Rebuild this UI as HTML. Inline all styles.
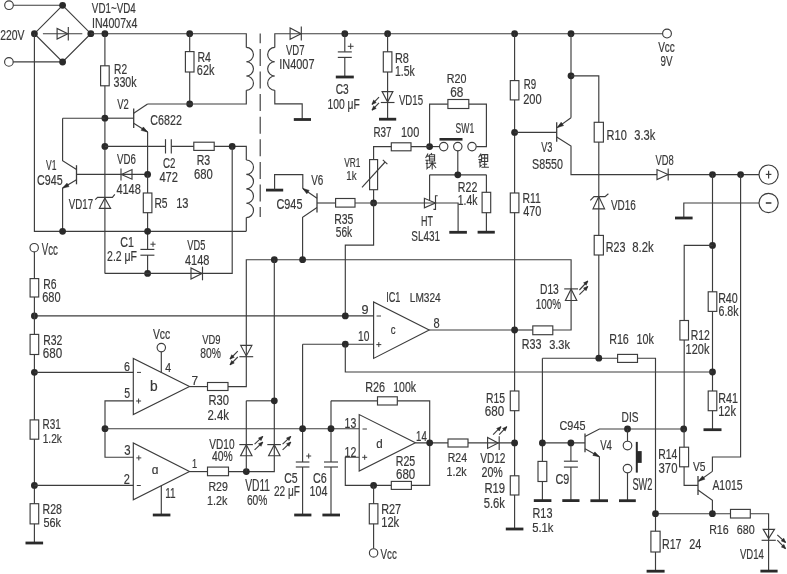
<!DOCTYPE html>
<html><head><meta charset="utf-8"><title>circuit</title>
<style>
html,body{margin:0;padding:0;background:#fff;}
body{width:787px;height:574px;overflow:hidden;}
svg{display:block;will-change:transform;}
text{font-family:"Liberation Sans",sans-serif;fill:#383838;stroke:#383838;stroke-width:0.2px;}
</style></head><body>
<svg width="787" height="574" viewBox="0 0 787 574">
<rect width="787" height="574" fill="#fff"/>
<g fill="none" stroke="#3c3c3c" stroke-width="1.15" stroke-linecap="butt" stroke-linejoin="miter">
<circle cx="9" cy="5.2" r="4.3" fill="#fff"/>
<circle cx="8.9" cy="61.9" r="4.3" fill="#fff"/>
<path d="M13.3 5.2 L62.6 5.2"/>
<path d="M13.2 61.9 L62.6 61.9"/>
<path d="M62.6 5.3 L90.8 33.7 L62.6 62 L34.4 33.7 L62.6 5.3"/>
<path d="M42.9 33.7 L82.3 33.7"/>
<polygon points="57.1,28.4 57.1,39 67.8,33.7" fill="none"/>
<path d="M68.3 26.9 L68.3 40.5"/>
<circle cx="62.6" cy="5.3" r="3.4" fill="#2a2a2a" stroke="none"/>
<circle cx="90.8" cy="33.7" r="3.4" fill="#2a2a2a" stroke="none"/>
<circle cx="62.6" cy="62" r="3.4" fill="#2a2a2a" stroke="none"/>
<circle cx="34.4" cy="33.7" r="3.4" fill="#2a2a2a" stroke="none"/>
<text x="0.18" y="40.4" font-size="14" textLength="24.28" lengthAdjust="spacingAndGlyphs">220V</text>
<text x="91.85" y="12.7" font-size="14.2" textLength="43.84" lengthAdjust="spacingAndGlyphs">VD1~VD4</text>
<text x="91.95" y="27.9" font-size="14.43" textLength="45.38" lengthAdjust="spacingAndGlyphs">IN4007x4</text>
<path d="M34.4 33.7 L34.4 231.3 L246.3 231.3"/>
<path d="M90.8 33.7 L246.3 33.7 L246.3 47.4"/>
<circle cx="104.9" cy="33.7" r="3.4" fill="#2a2a2a" stroke="none"/>
<circle cx="189.7" cy="33.7" r="3.4" fill="#2a2a2a" stroke="none"/>
<path d="M104.9 33.7 L104.9 273.4"/>
<rect x="100.6" y="65.8" width="8.6" height="20" fill="#fff"/>
<text x="114.08" y="74" font-size="14.29" textLength="13.06" lengthAdjust="spacingAndGlyphs">R2</text>
<text x="113.47" y="87.4" font-size="14.62" textLength="23.11" lengthAdjust="spacingAndGlyphs">330k</text>
<path d="M189.7 33.7 L189.7 104"/>
<rect x="185.4" y="51.6" width="8.6" height="20.4" fill="#fff"/>
<text x="197.46" y="62.2" font-size="14.49" textLength="13.5" lengthAdjust="spacingAndGlyphs">R4</text>
<text x="196.86" y="75.4" font-size="14.34" textLength="17.57" lengthAdjust="spacingAndGlyphs">62k</text>
<circle cx="189.7" cy="104" r="3.4" fill="#2a2a2a" stroke="none"/>
<path d="M147.6 104 L246.3 104 L246.3 90.3"/>
<path d="M104.9 118.2 L133.7 118.2"/>
<path d="M133.7 108.4 L133.7 127.9" stroke-width="1.3"/>
<path d="M133.7 113.2 L147.6 104"/>
<path d="M133.7 123.3 L147.6 132"/>
<polygon points="147.6,132 141.2,130.35 143.32,126.96" fill="#2a2a2a" stroke="#2a2a2a" stroke-width="0.6"/>
<path d="M147.6 132 L147.6 174.6"/>
<circle cx="104.9" cy="118.2" r="3.4" fill="#2a2a2a" stroke="none"/>
<text x="117.15" y="109.2" font-size="13.71" textLength="11.55" lengthAdjust="spacingAndGlyphs">V2</text>
<text x="150.37" y="124.7" font-size="15" textLength="31.49" lengthAdjust="spacingAndGlyphs">C6822</text>
<path d="M62.6 118.2 L104.9 118.2"/>
<path d="M62.6 118.2 L62.6 160.7 L76.5 169.6"/>
<path d="M76.5 165.2 L76.5 184.3" stroke-width="1.3"/>
<path d="M76.5 179.8 L62.6 188.1"/>
<polygon points="62.6,188.1 66.98,183.15 69.03,186.59" fill="#2a2a2a" stroke="#2a2a2a" stroke-width="0.6"/>
<path d="M62.6 188.1 L62.6 231.3"/>
<circle cx="62.6" cy="231.3" r="3.4" fill="#2a2a2a" stroke="none"/>
<text x="45.96" y="170.2" font-size="14.2" textLength="10.45" lengthAdjust="spacingAndGlyphs">V1</text>
<text x="37.07" y="184.6" font-size="15.14" textLength="25.57" lengthAdjust="spacingAndGlyphs">C945</text>
<path d="M76.5 174.4 L147.6 174.4"/>
<polygon points="121.5,174.4 132,169.6 132,179.2" fill="none"/>
<path d="M121 168.4 L121 180.6"/>
<circle cx="147.6" cy="174.4" r="3.4" fill="#2a2a2a" stroke="none"/>
<text x="116.95" y="164" font-size="14.57" textLength="18.84" lengthAdjust="spacingAndGlyphs">VD6</text>
<text x="116.38" y="194.4" font-size="14.57" textLength="24.46" lengthAdjust="spacingAndGlyphs">4148</text>
<circle cx="104.9" cy="146.4" r="3.4" fill="#2a2a2a" stroke="none"/>
<path d="M104.9 146.4 L165.5 146.4"/>
<path d="M171.3 146.4 L246.3 146.4 L246.3 160"/>
<path d="M165.5 139.2 L165.5 153.5"/>
<path d="M171.3 139.2 L171.3 153.5"/>
<rect x="193.8" y="142.2" width="20.4" height="8.2" fill="#fff"/>
<circle cx="232.2" cy="146.4" r="3.4" fill="#2a2a2a" stroke="none"/>
<text x="162.91" y="168" font-size="14.86" textLength="12.4" lengthAdjust="spacingAndGlyphs">C2</text>
<text x="159.38" y="181.6" font-size="14.57" textLength="18.62" lengthAdjust="spacingAndGlyphs">472</text>
<text x="196.75" y="165" font-size="14.57" textLength="13.5" lengthAdjust="spacingAndGlyphs">R3</text>
<text x="194.04" y="179" font-size="14.57" textLength="18.8" lengthAdjust="spacingAndGlyphs">680</text>
<polygon points="104.9,198.1 99.4,208.3 110.6,208.3" fill="none"/>
<path d="M95.2 199.7 L97.6 197.3 L112.4 197.3 L114.8 194.4"/>
<text x="68.75" y="208.8" font-size="14.49" textLength="24.35" lengthAdjust="spacingAndGlyphs">VD17</text>
<path d="M147.6 174.4 L147.6 273.4"/>
<rect x="143.3" y="193" width="8.6" height="19.7" fill="#fff"/>
<text x="154.38" y="207.5" font-size="15.51" textLength="13.17" lengthAdjust="spacingAndGlyphs">R5</text>
<text x="176.17" y="207.5" font-size="15.29" textLength="12.3" lengthAdjust="spacingAndGlyphs">13</text>
<circle cx="147.6" cy="231.3" r="3.4" fill="#2a2a2a" stroke="none"/>
<rect x="140" y="249.5" width="15.2" height="5.6" fill="#fff" stroke="none"/>
<path d="M140.4 249.4 L154.4 249.4"/>
<path d="M140.4 255.2 L154.4 255.2"/>
<path d="M150.4 244.2 L155.6 244.2" stroke-width="1"/>
<path d="M153 241.6 L153 246.8" stroke-width="1"/>
<text x="120.27" y="247" font-size="14.57" textLength="13.65" lengthAdjust="spacingAndGlyphs">C1</text>
<text x="107.08" y="261.2" font-size="14" textLength="29.94" lengthAdjust="spacingAndGlyphs">2.2 μF</text>
<circle cx="147.6" cy="273.4" r="3.4" fill="#2a2a2a" stroke="none"/>
<path d="M104.9 273.4 L232.2 273.4 L232.2 146.4"/>
<polygon points="191,267.9 191,279.1 202,273.4" fill="none"/>
<path d="M202.5 266.6 L202.5 280.3"/>
<text x="187.35" y="249.8" font-size="13.91" textLength="18.02" lengthAdjust="spacingAndGlyphs">VD5</text>
<text x="184.98" y="264.9" font-size="14.71" textLength="24.46" lengthAdjust="spacingAndGlyphs">4148</text>
<path d="M246.3 47.4 A7.15 7.15 0 0 1 246.3 61.7 A7.15 7.15 0 0 1 246.3 76 A7.15 7.15 0 0 1 246.3 90.3" fill="none"/>
<path d="M274.8 47.4 A7.15 7.15 0 0 0 274.8 61.7 A7.15 7.15 0 0 0 274.8 76 A7.15 7.15 0 0 0 274.8 90.3" fill="none"/>
<path d="M246.3 160 A7.2 7.2 0 0 1 246.3 174.4 A7.2 7.2 0 0 1 246.3 188.8 A7.2 7.2 0 0 1 246.3 203.2 A7.2 7.2 0 0 1 246.3 217.6" fill="none"/>
<path d="M246.3 217.6 L246.3 231.3"/>
<path d="M260.2 33.6 L260.2 217" stroke-dasharray="17 5.6" stroke-dashoffset="7.3"/>
<path d="M274.8 47.4 L274.8 33.7 L290.4 33.7"/>
<path d="M274.8 90.3 L274.8 103.8 L302.2 103.8 L302.2 119.5"/>
<rect x="293.8" y="118.1" width="17.2" height="2.8" fill="#2a2a2a" stroke="none"/>
<polygon points="290.1,28 290.1,39.3 301.1,33.7" fill="none"/>
<path d="M301.3 26.6 L301.3 40.6"/>
<path d="M290.4 33.7 L662.6 33.7"/>
<circle cx="667" cy="33.6" r="4.4" fill="#fff"/>
<text x="285.95" y="55.2" font-size="14.49" textLength="18.53" lengthAdjust="spacingAndGlyphs">VD7</text>
<text x="279.21" y="69.4" font-size="14.57" textLength="35.33" lengthAdjust="spacingAndGlyphs">IN4007</text>
<text x="658.15" y="52.2" font-size="14.49" textLength="16.72" lengthAdjust="spacingAndGlyphs">Vcc</text>
<text x="660.46" y="65.8" font-size="13.71" textLength="12.02" lengthAdjust="spacingAndGlyphs">9V</text>
<circle cx="344.8" cy="33.7" r="3.4" fill="#2a2a2a" stroke="none"/>
<path d="M344.8 33.7 L344.8 51.8"/>
<path d="M344.8 57.5 L344.8 77"/>
<path d="M337.8 51.9 L351.8 51.9"/>
<path d="M337.8 57.4 L351.8 57.4"/>
<path d="M347.8 46.3 L353.6 46.3" stroke-width="1"/>
<path d="M350.7 43.4 L350.7 49.2" stroke-width="1"/>
<rect x="335.8" y="75.6" width="18" height="2.8" fill="#2a2a2a" stroke="none"/>
<text x="335.69" y="94" font-size="14.57" textLength="12.95" lengthAdjust="spacingAndGlyphs">C3</text>
<text x="327.53" y="108.8" font-size="14.29" textLength="32.27" lengthAdjust="spacingAndGlyphs">100 μF</text>
<circle cx="387.6" cy="33.7" r="3.4" fill="#2a2a2a" stroke="none"/>
<path d="M387.6 33.7 L387.6 119.2"/>
<rect x="383.3" y="51.8" width="8.6" height="20.2" fill="#fff"/>
<polygon points="382.1,91.6 392.9,91.6 387.6,102" fill="none"/>
<path d="M380.8 102.5 L394.5 102.5"/>
<path d="M379 97.1 L372 104.4"/>
<polygon points="372,104.4 373.61,100.12 376.21,102.61" fill="#2a2a2a" stroke="#2a2a2a" stroke-width="0.6"/>
<path d="M379 102.9 L372 110.2"/>
<polygon points="372,110.2 373.61,105.92 376.21,108.41" fill="#2a2a2a" stroke="#2a2a2a" stroke-width="0.6"/>
<rect x="379" y="117.8" width="17.2" height="2.8" fill="#2a2a2a" stroke="none"/>
<text x="394.93" y="62.6" font-size="14.57" textLength="13.95" lengthAdjust="spacingAndGlyphs">R8</text>
<text x="395.01" y="75.6" font-size="14.07" textLength="19.79" lengthAdjust="spacingAndGlyphs">1.5k</text>
<text x="398.95" y="104.6" font-size="14.78" textLength="24.05" lengthAdjust="spacingAndGlyphs">VD15</text>
<path d="M429.6 146.6 L429.6 104.1 L447.9 104.1"/>
<path d="M468.8 104.1 L486.4 104.1 L486.4 146.6 L476.2 146.6"/>
<rect x="447.9" y="99.5" width="20.9" height="9" fill="#fff"/>
<text x="446.74" y="83" font-size="13" textLength="19.63" lengthAdjust="spacingAndGlyphs">R20</text>
<text x="450.31" y="96.9" font-size="13.86" textLength="13.09" lengthAdjust="spacingAndGlyphs">68</text>
<circle cx="443.7" cy="146.6" r="4.2" fill="#fff"/>
<circle cx="457.8" cy="146.6" r="4.2" fill="#fff"/>
<circle cx="472" cy="146.6" r="4.2" fill="#fff"/>
<path d="M429.6 146.6 L439.5 146.6"/>
<rect x="439.5" y="138.0" width="23.0" height="2.6" fill="#2a2a2a" stroke="none"/>
<text x="455.61" y="133.4" font-size="13.71" textLength="18.59" lengthAdjust="spacingAndGlyphs">SW1</text>
<path d="M457.8 150.8 L457.8 174.8"/>
<circle cx="429.6" cy="146.6" r="3.4" fill="#2a2a2a" stroke="none"/>
<path d="M373.6 159.6 L373.6 146.6 L429.6 146.6"/>
<rect x="391.3" y="142.8" width="19.7" height="8" fill="#fff"/>
<text x="373.41" y="137.2" font-size="14.29" textLength="18.08" lengthAdjust="spacingAndGlyphs">R37</text>
<text x="400.98" y="137.2" font-size="14.29" textLength="18.24" lengthAdjust="spacingAndGlyphs">100</text>
<path d="M373.6 189.7 L373.6 202.9"/>
<rect x="369.6" y="159.6" width="8" height="30.1" fill="#fff"/>
<path d="M362 187.3 L385.1 162"/>
<path d="M382.8 159.9 L387.4 164.1"/>
<text x="344.26" y="167.3" font-size="13.04" textLength="16.22" lengthAdjust="spacingAndGlyphs">VR1</text>
<text x="346.27" y="180.4" font-size="12.14" textLength="10.24" lengthAdjust="spacingAndGlyphs">1k</text>
<circle cx="373.6" cy="202.9" r="3.4" fill="#2a2a2a" stroke="none"/>
<rect x="266" y="188.7" width="17.2" height="2.8" fill="#2a2a2a" stroke="none"/>
<path d="M274.6 190.1 L274.6 174.6 L302.8 174.6 L302.8 188.5"/>
<path d="M317 198.3 L302.8 188.5"/>
<polygon points="302.8,188.5 309.12,190.43 306.85,193.72" fill="#2a2a2a" stroke="#2a2a2a" stroke-width="0.6"/>
<path d="M317 193.3 L317 212.4" stroke-width="1.3"/>
<path d="M317 203 L335.6 203"/>
<rect x="335.6" y="198.5" width="19.4" height="8.6" fill="#fff"/>
<path d="M355 203 L435.5 203"/>
<path d="M317 207.6 L302.6 217.2 L302.6 259.7"/>
<text x="311.15" y="184.8" font-size="14" textLength="12.08" lengthAdjust="spacingAndGlyphs">V6</text>
<text x="276.46" y="208.6" font-size="14.86" textLength="25.99" lengthAdjust="spacingAndGlyphs">C945</text>
<text x="334.16" y="223.6" font-size="14.57" textLength="19.25" lengthAdjust="spacingAndGlyphs">R35</text>
<text x="335.79" y="236.6" font-size="14.07" textLength="16.43" lengthAdjust="spacingAndGlyphs">56k</text>
<path d="M429.6 174.8 L486.4 174.8"/>
<path d="M429.6 174.8 L429.6 200.6"/>
<polygon points="424.4,198.3 424.4,207.9 435.4,203" fill="none"/>
<path d="M437.7 195.7 L435.5 195.7 L435.5 209.4 L433.4 209.4"/>
<path d="M435.5 203 L458.1 203 L458.1 232.3"/>
<rect x="449.3" y="230.9" width="17.6" height="2.8" fill="#2a2a2a" stroke="none"/>
<circle cx="457.8" cy="174.8" r="3.4" fill="#2a2a2a" stroke="none"/>
<text x="420.98" y="226" font-size="14.78" textLength="11.92" lengthAdjust="spacingAndGlyphs">HT</text>
<text x="411.35" y="240.6" font-size="14.57" textLength="28.71" lengthAdjust="spacingAndGlyphs">SL431</text>
<path d="M486.4 174.8 L486.4 232.2"/>
<rect x="482.1" y="192.3" width="8.6" height="20.4" fill="#fff"/>
<rect x="477.6" y="230.8" width="17.2" height="2.8" fill="#2a2a2a" stroke="none"/>
<text x="457.75" y="192.2" font-size="14.57" textLength="19.58" lengthAdjust="spacingAndGlyphs">R22</text>
<text x="457.81" y="205.4" font-size="14.07" textLength="19.79" lengthAdjust="spacingAndGlyphs">1.4k</text>
<circle cx="514.6" cy="33.7" r="3.4" fill="#2a2a2a" stroke="none"/>
<path d="M514.6 33.7 L514.6 529"/>
<rect x="510.3" y="80.6" width="8.6" height="19.3" fill="#fff"/>
<rect x="510.3" y="193" width="8.6" height="19.7" fill="#fff"/>
<rect x="510.3" y="391" width="8.6" height="19.7" fill="#fff"/>
<rect x="510.3" y="475.8" width="8.6" height="19.2" fill="#fff"/>
<rect x="505.8" y="527.6" width="17.6" height="2.8" fill="#2a2a2a" stroke="none"/>
<circle cx="514.6" cy="132.4" r="3.4" fill="#2a2a2a" stroke="none"/>
<text x="523.72" y="88.8" font-size="14.86" textLength="12.45" lengthAdjust="spacingAndGlyphs">R9</text>
<text x="523.15" y="104" font-size="14.71" textLength="18.48" lengthAdjust="spacingAndGlyphs">200</text>
<text x="522.57" y="202.6" font-size="14.78" textLength="18.3" lengthAdjust="spacingAndGlyphs">R11</text>
<text x="523.18" y="216.2" font-size="14.57" textLength="18.24" lengthAdjust="spacingAndGlyphs">470</text>
<text x="485.97" y="402.8" font-size="14.78" textLength="19.04" lengthAdjust="spacingAndGlyphs">R15</text>
<text x="484.82" y="415.8" font-size="14.57" textLength="19.43" lengthAdjust="spacingAndGlyphs">680</text>
<text x="484.4" y="492.6" font-size="14.29" textLength="20.71" lengthAdjust="spacingAndGlyphs">R19</text>
<text x="483.75" y="507.6" font-size="14.07" textLength="21.25" lengthAdjust="spacingAndGlyphs">5.6k</text>
<circle cx="571" cy="33.7" r="3.4" fill="#2a2a2a" stroke="none"/>
<path d="M571 33.7 L571 117.8"/>
<path d="M571 117.8 L557.2 127.6"/>
<polygon points="557.2,127.6 561.18,122.32 563.49,125.58" fill="#2a2a2a" stroke="#2a2a2a" stroke-width="0.6"/>
<path d="M556.7 122.3 L556.7 141.8" stroke-width="1.3"/>
<path d="M514.6 132.4 L556.7 132.4"/>
<path d="M556.7 137 L571 146 L571 174.6 L759 174.6"/>
<text x="541.15" y="151.6" font-size="14.29" textLength="11.24" lengthAdjust="spacingAndGlyphs">V3</text>
<text x="532.12" y="169.2" font-size="14.57" textLength="30.87" lengthAdjust="spacingAndGlyphs">S8550</text>
<circle cx="571" cy="75.8" r="3.4" fill="#2a2a2a" stroke="none"/>
<path d="M571 75.8 L598.8 75.8 L598.8 358"/>
<rect x="594.2" y="122.3" width="9.2" height="19.8" fill="#fff"/>
<text x="606.62" y="139.6" font-size="14.71" textLength="20.16" lengthAdjust="spacingAndGlyphs">R10</text>
<text x="634.26" y="139.6" font-size="14.07" textLength="20.94" lengthAdjust="spacingAndGlyphs">3.3k</text>
<polygon points="598.8,196.5 593,208.8 604.6,208.8" fill="none"/>
<path d="M590.3 200.4 L594 196.6 L605 196.6 L608.4 193.8"/>
<text x="610.95" y="209.8" font-size="15.43" textLength="24.86" lengthAdjust="spacingAndGlyphs">VD16</text>
<rect x="594.2" y="235.4" width="9.2" height="19.6" fill="#fff"/>
<text x="605.74" y="251.6" font-size="15.43" textLength="19.68" lengthAdjust="spacingAndGlyphs">R23</text>
<text x="632.29" y="251.6" font-size="14.9" textLength="21.51" lengthAdjust="spacingAndGlyphs">8.2k</text>
<polygon points="657,169.6 657,179.6 668,174.6" fill="#fff"/>
<path d="M668.2 168.6 L668.2 180.6"/>
<circle cx="712.5" cy="174.6" r="3.4" fill="#2a2a2a" stroke="none"/>
<circle cx="740.6" cy="174.6" r="3.4" fill="#2a2a2a" stroke="none"/>
<text x="655.55" y="164.8" font-size="14.57" textLength="18.23" lengthAdjust="spacingAndGlyphs">VD8</text>
<circle cx="768.6" cy="174.6" r="9.6" fill="#fff"/>
<path d="M765.8 174.4 L771.4 174.4" stroke-width="1.2"/>
<path d="M768.6 170.8 L768.6 178.4" stroke-width="1.2"/>
<circle cx="768.6" cy="203.0" r="9.6" fill="#fff"/>
<path d="M765.8 203 L771.4 203" stroke-width="1.6"/>
<path d="M759 203 L683.8 203 L683.8 218"/>
<rect x="675" y="216.6" width="17.6" height="2.8" fill="#2a2a2a" stroke="none"/>
<path d="M712.5 174.6 L712.5 429.7"/>
<rect x="708.2" y="291.8" width="8.6" height="19.6" fill="#fff"/>
<rect x="708.2" y="391" width="8.6" height="19.7" fill="#fff"/>
<rect x="703.5" y="428.3" width="18" height="2.8" fill="#2a2a2a" stroke="none"/>
<circle cx="712.5" cy="245.4" r="3.4" fill="#2a2a2a" stroke="none"/>
<circle cx="712.5" cy="372" r="3.4" fill="#2a2a2a" stroke="none"/>
<text x="718.14" y="302.8" font-size="14.57" textLength="19.63" lengthAdjust="spacingAndGlyphs">R40</text>
<text x="718.47" y="316.4" font-size="14.07" textLength="20.13" lengthAdjust="spacingAndGlyphs">6.8k</text>
<text x="718.14" y="402.8" font-size="14.78" textLength="19.74" lengthAdjust="spacingAndGlyphs">R41</text>
<text x="718.17" y="415.8" font-size="14.07" textLength="17.86" lengthAdjust="spacingAndGlyphs">12k</text>
<path d="M712.5 245.4 L684.2 245.4 L684.2 428.7"/>
<rect x="679.9" y="320.5" width="8.6" height="19.5" fill="#fff"/>
<text x="690.76" y="340" font-size="14.57" textLength="19.15" lengthAdjust="spacingAndGlyphs">R12</text>
<text x="685.58" y="354.4" font-size="14.07" textLength="23.81" lengthAdjust="spacingAndGlyphs">120k</text>
<path d="M740.6 174.6 L740.6 457 L712.4 457 L712.4 471.4"/>
<path d="M246.3 356.7 L246.3 259.7 L571.1 259.7 L571.1 288.9"/>
<circle cx="274.3" cy="259.7" r="3.4" fill="#2a2a2a" stroke="none"/>
<circle cx="302.6" cy="259.7" r="3.4" fill="#2a2a2a" stroke="none"/>
<path d="M564.2 288.9 L578 288.9"/>
<polygon points="571.1,289 565.4,300.5 576.8,300.5" fill="none"/>
<path d="M571.1 288.9 L571.1 330 L552.8 330"/>
<path d="M579.4 294.7 L587.8 286.4"/>
<polygon points="587.8,286.4 586.08,290.63 583.55,288.07" fill="#2a2a2a" stroke="#2a2a2a" stroke-width="0.6"/>
<path d="M579.4 290 L587.8 281"/>
<polygon points="587.8,281 586.25,285.3 583.62,282.84" fill="#2a2a2a" stroke="#2a2a2a" stroke-width="0.6"/>
<text x="539.98" y="294.4" font-size="14.29" textLength="18.83" lengthAdjust="spacingAndGlyphs">D13</text>
<text x="535.66" y="309.2" font-size="14.86" textLength="25.26" lengthAdjust="spacingAndGlyphs">100%</text>
<rect x="532.8" y="325.9" width="20" height="8.8" fill="#fff"/>
<path d="M514.6 330 L532.8 330"/>
<text x="521.74" y="349.4" font-size="13.71" textLength="19.68" lengthAdjust="spacingAndGlyphs">R33</text>
<text x="549.16" y="349.4" font-size="13.24" textLength="20.84" lengthAdjust="spacingAndGlyphs">3.3k</text>
<path d="M373.6 202.9 L373.6 245.1 L345.3 245.1 L345.3 315.9"/>
<path d="M34.4 315.9 L373.6 315.9"/>
<circle cx="345.3" cy="315.9" r="3.4" fill="#2a2a2a" stroke="none"/>
<circle cx="34.4" cy="315.9" r="3.4" fill="#2a2a2a" stroke="none"/>
<polygon points="373.6,302 373.6,358.4 429.2,330" fill="none"/>
<path d="M429.2 330 L514.6 330"/>
<circle cx="514.6" cy="330" r="3.4" fill="#2a2a2a" stroke="none"/>
<path d="M302.6 344.2 L373.6 344.2"/>
<circle cx="345.3" cy="344.2" r="3.4" fill="#2a2a2a" stroke="none"/>
<path d="M345.3 344.2 L345.3 372 L712.5 372"/>
<text x="361.43" y="313.7" font-size="13.29" textLength="7.06" lengthAdjust="spacingAndGlyphs">9</text>
<text x="358.04" y="340.9" font-size="14.14" textLength="11.35" lengthAdjust="spacingAndGlyphs">10</text>
<path d="M376.6 316 L381 316" stroke-width="1"/>
<path d="M376.3 344.6 L381.3 344.6" stroke-width="1"/>
<path d="M378.8 342.1 L378.8 347.1" stroke-width="1"/>
<text x="390.81" y="333.8" font-size="12.96" textLength="4.83" lengthAdjust="spacingAndGlyphs">c</text>
<text x="433.5" y="328.4" font-size="13.71" textLength="6.15" lengthAdjust="spacingAndGlyphs">8</text>
<text x="386.18" y="302.2" font-size="14.57" textLength="14.25" lengthAdjust="spacingAndGlyphs">IC1</text>
<text x="409.79" y="302.3" font-size="12.86" textLength="30.94" lengthAdjust="spacingAndGlyphs">LM324</text>
<circle cx="34.2" cy="247.7" r="4.2" fill="#fff"/>
<text x="41.75" y="254.8" font-size="16.23" textLength="16.11" lengthAdjust="spacingAndGlyphs">Vcc</text>
<path d="M34.4 251.9 L34.4 543"/>
<rect x="30.1" y="278.6" width="8.6" height="18.4" fill="#fff"/>
<rect x="30.1" y="334.4" width="8.6" height="20.1" fill="#fff"/>
<rect x="30.1" y="419.9" width="8.6" height="19.3" fill="#fff"/>
<rect x="30.1" y="503.7" width="8.6" height="20.2" fill="#fff"/>
<rect x="25.5" y="541.6" width="17.6" height="2.8" fill="#2a2a2a" stroke="none"/>
<text x="43.17" y="288.5" font-size="15.14" textLength="13.28" lengthAdjust="spacingAndGlyphs">R6</text>
<text x="42.25" y="301.6" font-size="14.57" textLength="18.37" lengthAdjust="spacingAndGlyphs">680</text>
<text x="43.16" y="345.4" font-size="14.57" textLength="19.15" lengthAdjust="spacingAndGlyphs">R32</text>
<text x="42.82" y="358" font-size="14.57" textLength="19.43" lengthAdjust="spacingAndGlyphs">680</text>
<text x="42.6" y="429.4" font-size="14.57" textLength="18.24" lengthAdjust="spacingAndGlyphs">R31</text>
<text x="42.63" y="443.2" font-size="13.52" textLength="19.37" lengthAdjust="spacingAndGlyphs">1.2k</text>
<text x="42.56" y="513.6" font-size="14" textLength="19.36" lengthAdjust="spacingAndGlyphs">R28</text>
<text x="43.46" y="526.6" font-size="12.97" textLength="17.56" lengthAdjust="spacingAndGlyphs">56k</text>
<circle cx="34.4" cy="372.3" r="3.4" fill="#2a2a2a" stroke="none"/>
<circle cx="34.4" cy="485.4" r="3.4" fill="#2a2a2a" stroke="none"/>
<path d="M34.4 372.3 L133.3 372.3"/>
<path d="M34.4 485.4 L133.3 485.4"/>
<polygon points="133.3,358.4 133.3,414.6 189.5,386.6" fill="none"/>
<path d="M105 428.7 L105 400.8 L133.3 400.8"/>
<circle cx="161.3" cy="347.6" r="4.2" fill="#fff"/>
<path d="M161.3 351.8 L161.3 372.4"/>
<text x="152.95" y="338.8" font-size="14.78" textLength="17.33" lengthAdjust="spacingAndGlyphs">Vcc</text>
<text x="124.06" y="370.8" font-size="13.43" textLength="5.98" lengthAdjust="spacingAndGlyphs">6</text>
<text x="124.18" y="398.3" font-size="14.2" textLength="5.85" lengthAdjust="spacingAndGlyphs">5</text>
<text x="165.29" y="371.6" font-size="12.9" textLength="5.84" lengthAdjust="spacingAndGlyphs">4</text>
<text x="191.41" y="384.6" font-size="13.33" textLength="6.6" lengthAdjust="spacingAndGlyphs">7</text>
<text x="150.1" y="390.8" font-size="14.07" textLength="7.66" lengthAdjust="spacingAndGlyphs">b</text>
<path d="M137 372.4 L141 372.4" stroke-width="1"/>
<path d="M136.1 401 L141.1 401" stroke-width="1"/>
<path d="M138.6 398.5 L138.6 403.5" stroke-width="1"/>
<path d="M189.5 386.6 L207.5 386.6"/>
<rect x="207.5" y="382.5" width="20.5" height="8" fill="#fff"/>
<path d="M228 386.6 L246.3 386.6 L246.3 356.7"/>
<polygon points="240.7,345.4 251.9,345.4 246.3,355.9" fill="none"/>
<path d="M239.4 356.7 L253.2 356.7"/>
<path d="M237.8 351.2 L230 359"/>
<polygon points="230,359 231.7,354.76 234.24,357.3" fill="#2a2a2a" stroke="#2a2a2a" stroke-width="0.6"/>
<path d="M237.8 357 L230 364.8"/>
<polygon points="230,364.8 231.7,360.56 234.24,363.1" fill="#2a2a2a" stroke="#2a2a2a" stroke-width="0.6"/>
<text x="202.15" y="344.2" font-size="13" textLength="18.27" lengthAdjust="spacingAndGlyphs">VD9</text>
<text x="200.34" y="358.4" font-size="14.57" textLength="20.64" lengthAdjust="spacingAndGlyphs">80%</text>
<text x="208.51" y="405.4" font-size="14.57" textLength="20.48" lengthAdjust="spacingAndGlyphs">R30</text>
<text x="207.43" y="419.8" font-size="14.07" textLength="21.57" lengthAdjust="spacingAndGlyphs">2.4k</text>
<polygon points="133.3,443 133.3,499.8 189.5,471.5" fill="none"/>
<path d="M105 428.7 L105 457.2 L133.3 457.2"/>
<circle cx="105" cy="428.7" r="3.4" fill="#2a2a2a" stroke="none"/>
<path d="M105 428.7 L359.2 428.7"/>
<path d="M161.3 485.7 L161.3 515"/>
<rect x="152.8" y="513.6" width="17.6" height="2.8" fill="#2a2a2a" stroke="none"/>
<text x="124.15" y="455.2" font-size="13.71" textLength="6.32" lengthAdjust="spacingAndGlyphs">3</text>
<text x="123.65" y="483.6" font-size="13.71" textLength="6.11" lengthAdjust="spacingAndGlyphs">2</text>
<text x="192.11" y="468.4" font-size="13.04" textLength="5.11" lengthAdjust="spacingAndGlyphs">1</text>
<text x="165.25" y="498" font-size="13.91" textLength="10.44" lengthAdjust="spacingAndGlyphs">11</text>
<text x="151.82" y="473.6" font-size="12.59" textLength="6.67" lengthAdjust="spacingAndGlyphs">ɑ</text>
<path d="M136.3 457.9 L141.3 457.9" stroke-width="1"/>
<path d="M138.8 455.4 L138.8 460.4" stroke-width="1"/>
<path d="M136.8 485.5 L140.8 485.5" stroke-width="1"/>
<path d="M189.5 471.6 L207.5 471.6"/>
<rect x="207.5" y="467.1" width="21" height="8.6" fill="#fff"/>
<path d="M228.5 471.6 L274.3 471.6 L274.3 259.7"/>
<circle cx="246.3" cy="471.6" r="3.4" fill="#2a2a2a" stroke="none"/>
<path d="M246.3 400.8 L246.3 471.6"/>
<path d="M246.3 400.8 L274.3 400.8"/>
<circle cx="274.3" cy="400.8" r="3.4" fill="#2a2a2a" stroke="none"/>
<path d="M239.3 444.6 L252.9 444.6"/>
<polygon points="246.3,444.7 240.6,455.7 252,455.7" fill="none"/>
<path d="M254.6 444.2 L262.8 436.4"/>
<polygon points="262.8,436.4 261,440.6 258.52,437.99" fill="#2a2a2a" stroke="#2a2a2a" stroke-width="0.6"/>
<path d="M254.6 449.9 L262.8 442.1"/>
<polygon points="262.8,442.1 261,446.3 258.52,443.69" fill="#2a2a2a" stroke="#2a2a2a" stroke-width="0.6"/>
<path d="M267.3 444.6 L280.9 444.6"/>
<polygon points="274.3,444.7 268.6,455.7 280,455.7" fill="none"/>
<path d="M282.6 444.2 L290.8 436.4"/>
<polygon points="290.8,436.4 289,440.6 286.52,437.99" fill="#2a2a2a" stroke="#2a2a2a" stroke-width="0.6"/>
<path d="M282.6 449.9 L290.8 442.1"/>
<polygon points="290.8,442.1 289,446.3 286.52,443.69" fill="#2a2a2a" stroke="#2a2a2a" stroke-width="0.6"/>
<text x="209.35" y="448.8" font-size="14.57" textLength="25.22" lengthAdjust="spacingAndGlyphs">VD10</text>
<text x="212.09" y="461.4" font-size="13.71" textLength="20.68" lengthAdjust="spacingAndGlyphs">40%</text>
<text x="208.45" y="490.8" font-size="13.14" textLength="19.42" lengthAdjust="spacingAndGlyphs">R29</text>
<text x="206.99" y="505" font-size="13.24" textLength="20.41" lengthAdjust="spacingAndGlyphs">1.2k</text>
<text x="245.15" y="491.2" font-size="15.65" textLength="24.94" lengthAdjust="spacingAndGlyphs">VD11</text>
<text x="246.89" y="505" font-size="14.57" textLength="20.49" lengthAdjust="spacingAndGlyphs">60%</text>
<path d="M302.6 344.2 L302.6 462"/>
<path d="M302.6 467 L302.6 515"/>
<path d="M295.8 462 L309.4 462"/>
<path d="M295.8 467 L309.4 467"/>
<path d="M306.2 456 L311.2 456" stroke-width="1"/>
<path d="M308.7 453.5 L308.7 458.5" stroke-width="1"/>
<rect x="294.2" y="513.6" width="17.2" height="2.8" fill="#2a2a2a" stroke="none"/>
<circle cx="302.6" cy="428.7" r="3.4" fill="#2a2a2a" stroke="none"/>
<text x="284.28" y="482.8" font-size="13.71" textLength="13.38" lengthAdjust="spacingAndGlyphs">C5</text>
<text x="273.9" y="496.2" font-size="14.29" textLength="25.93" lengthAdjust="spacingAndGlyphs">22 μF</text>
<path d="M331 400.8 L331 462"/>
<path d="M331 467 L331 515"/>
<path d="M324 462 L338 462"/>
<path d="M324 467 L338 467"/>
<rect x="322.4" y="513.6" width="17.6" height="2.8" fill="#2a2a2a" stroke="none"/>
<circle cx="331" cy="428.7" r="3.4" fill="#2a2a2a" stroke="none"/>
<text x="312.96" y="482.8" font-size="13.71" textLength="13.7" lengthAdjust="spacingAndGlyphs">C6</text>
<text x="309.5" y="495.8" font-size="13.71" textLength="17.86" lengthAdjust="spacingAndGlyphs">104</text>
<polygon points="359.2,414.6 359.2,471 415.4,442.8" fill="none"/>
<path d="M362.5 429 L366.9 429" stroke-width="1"/>
<path d="M362.2 457.3 L367.2 457.3" stroke-width="1"/>
<path d="M364.7 454.8 L364.7 459.8" stroke-width="1"/>
<text x="344.62" y="427.6" font-size="14.57" textLength="11.63" lengthAdjust="spacingAndGlyphs">13</text>
<text x="344.61" y="456.6" font-size="14.57" textLength="11.74" lengthAdjust="spacingAndGlyphs">12</text>
<text x="376.34" y="447.6" font-size="12.69" textLength="6.43" lengthAdjust="spacingAndGlyphs">d</text>
<text x="416.08" y="440.7" font-size="14.2" textLength="10.74" lengthAdjust="spacingAndGlyphs">14</text>
<path d="M331 400.8 L377.5 400.8"/>
<rect x="377.5" y="396.8" width="19.8" height="8.2" fill="#fff"/>
<path d="M397.3 400.8 L429.7 400.8 L429.7 485.4 L411.4 485.4"/>
<text x="365.13" y="392.4" font-size="14.57" textLength="19.9" lengthAdjust="spacingAndGlyphs">R26</text>
<text x="393.21" y="392.4" font-size="14.07" textLength="22.77" lengthAdjust="spacingAndGlyphs">100k</text>
<path d="M359.2 457.2 L345.3 457.2 L345.3 485.4 L391.3 485.4"/>
<rect x="391.3" y="481.4" width="20.1" height="8" fill="#fff"/>
<circle cx="373.6" cy="485.4" r="3.4" fill="#2a2a2a" stroke="none"/>
<text x="395.75" y="465.8" font-size="14.57" textLength="19.47" lengthAdjust="spacingAndGlyphs">R25</text>
<text x="396.02" y="479" font-size="14.86" textLength="19.22" lengthAdjust="spacingAndGlyphs">680</text>
<path d="M373.6 485.4 L373.6 548.7"/>
<rect x="369.3" y="503.7" width="8.6" height="20.2" fill="#fff"/>
<circle cx="373.6" cy="552.9" r="4.2" fill="#fff"/>
<text x="381.13" y="514" font-size="14.57" textLength="20.01" lengthAdjust="spacingAndGlyphs">R27</text>
<text x="381.16" y="527" font-size="14.07" textLength="18.07" lengthAdjust="spacingAndGlyphs">12k</text>
<text x="380.55" y="558.6" font-size="14.2" textLength="16.31" lengthAdjust="spacingAndGlyphs">Vcc</text>
<path d="M415.4 442.8 L514.6 442.8"/>
<circle cx="429.7" cy="442.8" r="3.4" fill="#2a2a2a" stroke="none"/>
<rect x="448" y="439" width="20" height="8" fill="#fff"/>
<polygon points="487.6,437.4 487.6,448.4 498.1,443" fill="none"/>
<path d="M499.2 436.2 L499.2 449.9"/>
<path d="M542.4 442.9 L585 442.9"/>
<path d="M493.1 434.6 L501 426.7"/>
<polygon points="501,426.7 499.3,430.94 496.76,428.4" fill="#2a2a2a" stroke="#2a2a2a" stroke-width="0.6"/>
<path d="M499.2 434.6 L506.8 426.7"/>
<polygon points="506.8,426.7 505.19,430.97 502.59,428.48" fill="#2a2a2a" stroke="#2a2a2a" stroke-width="0.6"/>
<circle cx="514.6" cy="442.9" r="3.4" fill="#2a2a2a" stroke="none"/>
<text x="447.76" y="462.2" font-size="13.14" textLength="19.25" lengthAdjust="spacingAndGlyphs">R24</text>
<text x="446.5" y="476.2" font-size="12.97" textLength="20.2" lengthAdjust="spacingAndGlyphs">1.2k</text>
<text x="480.15" y="463.2" font-size="14.57" textLength="25.37" lengthAdjust="spacingAndGlyphs">VD12</text>
<text x="481.47" y="477.4" font-size="14.57" textLength="21.32" lengthAdjust="spacingAndGlyphs">20%</text>
<path d="M542.4 358.2 L542.4 500.6"/>
<rect x="538" y="461.4" width="8.8" height="20.1" fill="#fff"/>
<rect x="533.8" y="499.2" width="17.6" height="2.8" fill="#2a2a2a" stroke="none"/>
<circle cx="542.4" cy="442.9" r="3.4" fill="#2a2a2a" stroke="none"/>
<text x="532.53" y="518" font-size="14.57" textLength="19.9" lengthAdjust="spacingAndGlyphs">R13</text>
<text x="532.15" y="531.8" font-size="13.52" textLength="21.25" lengthAdjust="spacingAndGlyphs">5.1k</text>
<path d="M570.9 442.9 L570.9 461.2"/>
<path d="M570.9 467.1 L570.9 500.6"/>
<path d="M563.9 461.2 L577.9 461.2"/>
<path d="M563.9 467.1 L577.9 467.1"/>
<rect x="562.3" y="499.2" width="17.2" height="2.8" fill="#2a2a2a" stroke="none"/>
<circle cx="570.9" cy="442.9" r="3.4" fill="#2a2a2a" stroke="none"/>
<text x="555.46" y="483.6" font-size="14.29" textLength="13.76" lengthAdjust="spacingAndGlyphs">C9</text>
<text x="559.56" y="430" font-size="12.86" textLength="25.88" lengthAdjust="spacingAndGlyphs">C945</text>
<path d="M585 433.6 L585 452.3" stroke-width="1.3"/>
<path d="M585 436.6 L599.4 429 L683.7 429"/>
<path d="M585 448.8 L599.4 456.7"/>
<polygon points="599.4,456.7 592.91,455.42 594.84,451.92" fill="#2a2a2a" stroke="#2a2a2a" stroke-width="0.6"/>
<path d="M599.4 456.7 L599.4 500.7"/>
<rect x="590.4" y="499.3" width="17.6" height="2.8" fill="#2a2a2a" stroke="none"/>
<text x="600.15" y="450.2" font-size="13.91" textLength="11.77" lengthAdjust="spacingAndGlyphs">V4</text>
<path d="M542.4 358.2 L617.6 358.2"/>
<circle cx="598.8" cy="358.2" r="3.4" fill="#2a2a2a" stroke="none"/>
<rect x="617.6" y="354.4" width="19.9" height="8" fill="#fff"/>
<path d="M637.5 358.2 L655.5 358.2 L655.5 571.2"/>
<text x="609.14" y="344" font-size="14.57" textLength="19.68" lengthAdjust="spacingAndGlyphs">R16</text>
<text x="636.39" y="344" font-size="14.07" textLength="17.44" lengthAdjust="spacingAndGlyphs">10k</text>
<circle cx="627.5" cy="429" r="3.4" fill="#2a2a2a" stroke="none"/>
<path d="M627.5 429 L627.5 441.2"/>
<circle cx="627.5" cy="445.5" r="4.3" fill="#fff"/>
<circle cx="627.5" cy="468.6" r="4.3" fill="#fff"/>
<path d="M627.5 472.9 L627.5 500.7"/>
<rect x="619" y="499.3" width="16.8" height="2.8" fill="#2a2a2a" stroke="none"/>
<rect x="635.8" y="441.9" width="2.0" height="30.7" fill="#2a2a2a" stroke="none"/>
<rect x="636.8" y="451.1" width="4.9" height="11.8" fill="#2a2a2a" stroke="none"/>
<text x="632.38" y="489.8" font-size="16.29" textLength="20" lengthAdjust="spacingAndGlyphs">SW2</text>
<text x="621.59" y="422.4" font-size="14.57" textLength="16.89" lengthAdjust="spacingAndGlyphs">DIS</text>
<circle cx="683.7" cy="429" r="3.4" fill="#2a2a2a" stroke="none"/>
<path d="M684.1 429 L684.1 485.3 L698 485.3"/>
<rect x="679.6" y="447.2" width="9" height="19.6" fill="#fff"/>
<text x="658.17" y="459.2" font-size="14.78" textLength="19.14" lengthAdjust="spacingAndGlyphs">R14</text>
<text x="658.55" y="473.2" font-size="14" textLength="18.89" lengthAdjust="spacingAndGlyphs">370</text>
<path d="M698 476 L698 495.1" stroke-width="1.3"/>
<path d="M712.4 471.4 L698.5 481.2"/>
<polygon points="698.5,481.2 702.5,475.94 704.8,479.2" fill="#2a2a2a" stroke="#2a2a2a" stroke-width="0.6"/>
<path d="M698 490 L712.4 500.2 L712.4 513.7"/>
<text x="692.95" y="471.4" font-size="13.04" textLength="12.49" lengthAdjust="spacingAndGlyphs">V5</text>
<text x="712.4" y="490.2" font-size="13.71" textLength="30.24" lengthAdjust="spacingAndGlyphs">A1015</text>
<path d="M655.5 513.7 L730.5 513.7"/>
<circle cx="655.5" cy="513.7" r="3.4" fill="#2a2a2a" stroke="none"/>
<circle cx="712.4" cy="513.7" r="3.4" fill="#2a2a2a" stroke="none"/>
<rect x="730.5" y="509.4" width="19.8" height="8.6" fill="#fff"/>
<path d="M750.3 513.7 L768.6 513.7 L768.6 571.1"/>
<polygon points="763.2,529.4 774.5,529.4 768.6,538.6" fill="none"/>
<path d="M761.6 540.3 L775.8 540.3"/>
<path d="M777.3 534.8 L785.6 542.5"/>
<polygon points="785.6,542.5 781.3,540.96 783.75,538.32" fill="#2a2a2a" stroke="#2a2a2a" stroke-width="0.6"/>
<path d="M777.3 540.2 L785.6 548.7"/>
<polygon points="785.6,548.7 781.38,546.95 783.95,544.44" fill="#2a2a2a" stroke="#2a2a2a" stroke-width="0.6"/>
<rect x="760.4" y="569.7" width="17.2" height="2.8" fill="#2a2a2a" stroke="none"/>
<text x="709.15" y="534" font-size="13.43" textLength="19.47" lengthAdjust="spacingAndGlyphs">R16</text>
<text x="736.86" y="534" font-size="13.43" textLength="17.95" lengthAdjust="spacingAndGlyphs">680</text>
<text x="739.95" y="558.6" font-size="14.78" textLength="23.95" lengthAdjust="spacingAndGlyphs">VD14</text>
<rect x="650.9" y="531.2" width="9.2" height="20.8" fill="#fff"/>
<rect x="646.6" y="569.8" width="18" height="2.8" fill="#2a2a2a" stroke="none"/>
<text x="661.95" y="549.4" font-size="14.78" textLength="19.58" lengthAdjust="spacingAndGlyphs">R17</text>
<text x="689.26" y="549.4" font-size="14.57" textLength="12.1" lengthAdjust="spacingAndGlyphs">24</text>
<path d="M428 153.5 L425.6 158.1 M426.4 156.1 L429 156.1 M425.4 160.3 L428.6 160.3 M425.8 163.5 L428.4 163.5 M427 160.3 L427 168.7 L428.6 166.9 M431.8 153.1 L431 154.4 M429.4 154.7 L434.6 154.7 L434.6 160.9 L429.4 160.9 L429.4 154.7 M429.4 156.8 L434.6 156.8 M429.4 158.9 L434.6 158.9 M429 163.1 L436.1 163.1 M432.2 161.1 L432.2 169.6 M432 163.5 L429.1 167.7 M432.4 163.5 L436.1 168" fill="none" stroke-width="1.05" stroke="#383838"/>
<path d="M481 153.45 L478.6 157.49 M479.4 155.74 L482 155.74 M478.4 159.43 L481.6 159.43 M478.8 162.24 L481.4 162.24 M480 159.43 L480 166.81 L481.6 165.23 M481.6 154.6 L487.7 154.6 L487.7 161.5 L481.6 161.5 L481.6 154.6 M481.6 158.1 L487.7 158.1 M484.65 154.6 L484.65 167.2 M482.4 164.3 L487.2 164.3 M481.4 167.2 L488.9 167.2" fill="none" stroke-width="1.05" stroke="#383838"/>
</g>
</svg>
</body></html>
